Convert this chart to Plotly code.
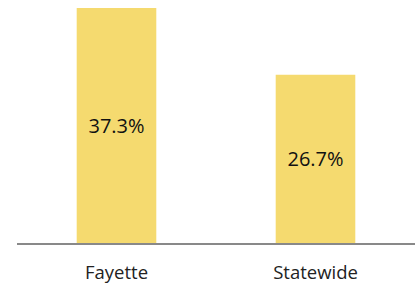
import plotly.graph_objects as go

categories = ["Fayette", "Statewide"]
values = [37.3, 26.7]
labels = ["37.3%", "26.7%"]

fig = go.Figure(go.Bar(
    x=categories, y=values, text=labels,
    textposition="inside", insidetextanchor="middle", constraintext="none",
    textfont=dict(family="Open Sans", size=20, color="#111111"),
    marker=dict(color="#F5DA6F", line=dict(width=0)),
    hoverinfo="skip",
))
fig.update_layout(
    width=415, height=286,
    margin=dict(l=17, r=0, t=8, b=43, autoexpand=False),
    paper_bgcolor="white", plot_bgcolor="white",
    bargap=0.6, showlegend=False,
)
fig.update_xaxes(showline=True, linecolor="#898989", linewidth=2,
                 showgrid=False, ticks="", ticklabelstandoff=12, automargin=False,
                 tickfont=dict(family="Open Sans", size=18.5, color="#222222"))
fig.update_yaxes(range=[0, 37.3], visible=False)
fig.write_html("out.html", config={"displayModeBar": False},
               post_script="document.body.style.margin='0';")
